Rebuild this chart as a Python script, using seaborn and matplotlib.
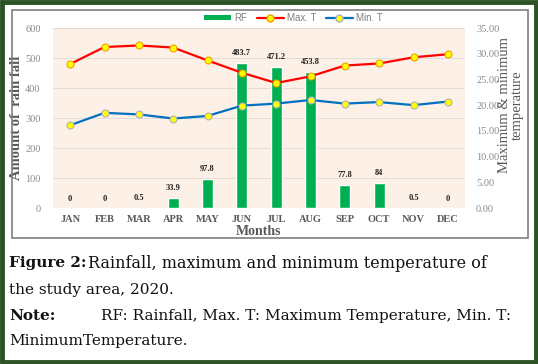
import numpy as np
import pandas as pd
import matplotlib.pyplot as plt
import seaborn as sns
from matplotlib.patches import Rectangle, Patch
from matplotlib.lines import Line2D

# Data
months = ['JAN', 'FEB', 'MAR', 'APR', 'MAY', 'JUN', 'JUL', 'AUG', 'SEP', 'OCT', 'NOV', 'DEC']
rainfall = [0, 0, 0.5, 33.9, 97.8, 483.7, 471.2, 453.8, 77.8, 84, 0.5, 0]
rf_labels = ['0', '0', '0.5', '33.9', '97.8', '483.7', '471.2', '453.8', '77.8', '84', '0.5', '0']
max_t = [28.0, 31.3, 31.6, 31.2, 28.7, 26.3, 24.3, 25.6, 27.7, 28.1, 29.3, 29.9]
min_t = [16.1, 18.5, 18.2, 17.4, 17.9, 19.9, 20.3, 21.0, 20.3, 20.6, 20.0, 20.7]

df = pd.DataFrame({'month': months, 'rf': rainfall, 'max_t': max_t, 'min_t': min_t})
df['pos'] = np.arange(len(df))

sns.set_style('white')
plt.rcParams['font.family'] = ['Liberation Serif', 'DejaVu Serif']

W, H = 538, 364
fig = plt.figure(figsize=(W / 100, H / 100), dpi=100)
ax = fig.add_axes([53 / W, 1 - 208 / H, 412 / W, 180 / H])
ax.set_facecolor('#fdf0e6')

sns.barplot(data=df, x='month', y='rf', color='#00b050', width=0.32,
            saturation=1, ax=ax, zorder=2)
for i, (v, lab) in enumerate(zip(rainfall, rf_labels)):
    ax.text(i, v + 18, lab, ha='center', va='bottom', fontsize=6,
            fontweight='bold', color='#222222')

ax.set_ylim(0, 600)
ax.set_yticks(range(0, 601, 100))
ax.set_xlim(-0.5, 11.5)
ax.grid(axis='y', color='#e3dcd6', linewidth=0.7, zorder=0)
ax.set_axisbelow(True)
for s in ax.spines.values():
    s.set_visible(False)
ax.tick_params(axis='y', labelsize=7.5, labelcolor='#8a8a8a', length=0, pad=9)
ax.tick_params(axis='x', length=0, pad=5)
for t in ax.get_xticklabels():
    t.set_fontsize(7.5)
    t.set_fontweight('bold')
    t.set_color('#595959')
ax.set_xlabel('Months', fontsize=10, fontweight='bold', color='#595959', labelpad=1)
ax.set_ylabel('Amount of  rain fall', fontsize=10.5, fontweight='bold', color='#595959')
ax.yaxis.set_label_coords(-30 / 412, 0.5)

ax2 = ax.twinx()
ax2.patch.set_visible(False)
sns.lineplot(data=df, x='pos', y='max_t', color='#ff0000', linewidth=1.6,
             marker='o', markersize=5, markerfacecolor='#ffff00',
             markeredgecolor='#f0a000', markeredgewidth=0.8, ax=ax2)
sns.lineplot(data=df, x='pos', y='min_t', color='#0070c0', linewidth=1.6,
             marker='o', markersize=5, markerfacecolor='#ffff00',
             markeredgecolor='#b0b0b0', markeredgewidth=0.8, ax=ax2)
ax2.set_ylim(0, 35)
ticks_t = np.arange(0, 36, 5)
ax2.set_yticks(ticks_t)
ax2.set_yticklabels([f'{v:.2f}' for v in ticks_t])
ax2.set_xlim(-0.5, 11.5)
for s in ax2.spines.values():
    s.set_visible(False)
ax2.tick_params(axis='y', labelsize=7.5, labelcolor='#8a8a8a', length=0, pad=8)
ax2.set_xlabel('')
ax2.set_ylabel('Maximum & minimum\ntemperature', fontsize=10.5, color='#595959',
               linespacing=1.0, rotation=90, va='center', ha='center')
ax2.yaxis.set_label_coords(1 + 46 / 412, 0.57)

# legend
handles = [
    Patch(facecolor='#00b050', edgecolor='none'),
    Line2D([], [], color='#ff0000', lw=1.6, marker='o', markersize=5,
           markerfacecolor='#ffff00', markeredgecolor='#f0a000'),
    Line2D([], [], color='#0070c0', lw=1.6, marker='o', markersize=5,
           markerfacecolor='#ffff00', markeredgecolor='#b0b0b0'),
]
leg = fig.legend(handles, ['RF', 'Max. T', 'Min. T'], loc='center',
                 bbox_to_anchor=(0.545, 1 - 18 / H), ncol=3, frameon=False,
                 prop={'family': 'Liberation Sans', 'size': 7},
                 handlelength=2.8, handleheight=0.45, columnspacing=1.0,
                 handletextpad=0.3)
for t in leg.get_texts():
    t.set_color('#7f7f7f')

# chart box and outer border
fig.patches.append(Rectangle((12 / W, 1 - 238 / H), 516 / W, 228 / H,
                             transform=fig.transFigure, fill=False,
                             edgecolor='#7f7f7f', linewidth=1.2, zorder=0))
fig.patches.append(Rectangle((0.004, 0.006), 0.992, 0.988,
                             transform=fig.transFigure, fill=False,
                             edgecolor='#2d5226', linewidth=3.5, zorder=5))

# caption
cap = dict(fontsize=11, color='#111111', va='center', family='DejaVu Serif')
fig.text(9 / W, 1 - 263 / H, 'Figure 2:', fontweight='bold', **cap)
fig.text(88 / W, 1 - 263 / H, 'Rainfall, maximum and minimum temperature of',
         **{**cap, 'fontsize': 11.5})
fig.text(9 / W, 1 - 290 / H, 'the study area, 2020.', **cap)
fig.text(9 / W, 1 - 316 / H, 'Note:', fontweight='bold', **cap)
fig.text(101 / W, 1 - 316 / H,
         'RF: Rainfall, Max. T: Maximum Temperature, Min. T:', **cap)
fig.text(9 / W, 1 - 341 / H, 'MinimumTemperature.', **cap)

fig.savefig('out.png', dpi=100)
